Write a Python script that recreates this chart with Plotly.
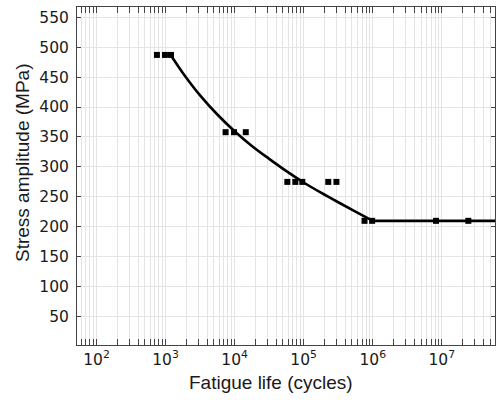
import plotly.graph_objects as go

# Measured data (fatigue life in cycles, stress amplitude in MPa)
life_points = [750, 980, 1200, 7400, 9800, 14500, 58000, 75700, 95500, 227000, 298000,
               760000, 980000, 8240000, 24200000]
stress_points = [487, 487, 487, 358, 358, 358, 275, 275, 275, 275, 275,
                 210, 210, 210, 210]

# S-N curve: sloped part, then the endurance plateau
curve_life = [1200, 1778, 3162, 5623, 10000, 17783, 31623, 56234, 100000,
              177828, 316228, 562341, 1000000]
curve_stress = [486, 457, 419.5, 387.5, 359.5, 335, 313.5, 293, 274,
                257, 241, 225.5, 210]
plateau_life = [1000000, 63000000]
plateau_stress = [210, 210]

x_tick_vals = [1e2, 1e3, 1e4, 1e5, 1e6, 1e7]
x_tick_text = ["10<sup>2</sup>", "10<sup>3</sup>", "10<sup>4</sup>",
               "10<sup>5</sup>", "10<sup>6</sup>", "10<sup>7</sup>"]
y_tick_vals = [50, 100, 150, 200, 250, 300, 350, 400, 450, 500, 550]

x_title = "Fatigue life (cycles)"
y_title = "Stress amplitude (MPa)"

fig = go.Figure()
fig.add_trace(go.Scatter(x=curve_life, y=curve_stress, mode="lines",
                         line=dict(color="black", width=2.6, shape="spline", smoothing=1),
                         showlegend=False, hoverinfo="skip"))
fig.add_trace(go.Scatter(x=plateau_life, y=plateau_stress, mode="lines",
                         line=dict(color="black", width=2.6),
                         showlegend=False, hoverinfo="skip"))
fig.add_trace(go.Scatter(x=life_points, y=stress_points, mode="markers",
                         marker=dict(symbol="square", size=6, color="black"),
                         showlegend=False))

grid_c = "#e4e4e4"
axis_c = "#444444"
tick_font = dict(family="DejaVu Sans", size=15.5, color="#1a1a1a")

fig.update_xaxes(
    type="log", range=[1.718, 7.77],
    tickvals=x_tick_vals, ticktext=x_tick_text,
    ticks="inside", ticklen=6, tickcolor=axis_c,
    showline=True, linecolor=axis_c, linewidth=1, mirror="ticks",
    showgrid=True, gridcolor=grid_c, gridwidth=1,
    minor=dict(dtick="D1", ticks="inside", ticklen=6, tickcolor=axis_c,
               showgrid=True, gridcolor=grid_c, gridwidth=1),
    tickfont=tick_font, zeroline=False,
)
fig.update_yaxes(
    range=[2.7, 567],
    tickvals=y_tick_vals,
    ticks="inside", ticklen=4, tickcolor=axis_c,
    showline=True, linecolor=axis_c, linewidth=1, mirror="ticks",
    showgrid=True, gridcolor=grid_c, gridwidth=1,
    tickfont=tick_font, zeroline=False, ticklabelstandoff=4,
)

title_font = dict(family="Liberation Sans", size=19, color="#1a1a1a")
fig.add_annotation(text=x_title, xref="paper", yref="paper",
                   x=(270.5 - 77) / 418, y=-38 / 338,
                   xanchor="center", yanchor="middle", showarrow=False,
                   font=title_font)
fig.add_annotation(text=y_title, xref="paper", yref="paper",
                   x=(22 - 77) / 418, y=(345 - 163) / 338,
                   xanchor="center", yanchor="middle", showarrow=False,
                   textangle=-90, font=title_font)

fig.update_layout(
    width=496, height=400,
    margin=dict(l=77, r=1, t=7, b=55),
    plot_bgcolor="white", paper_bgcolor="white",
)

fig.write_html("out.html", config={"displayModeBar": False},
               post_script="document.body.style.margin='0';document.body.style.overflow='hidden';")
